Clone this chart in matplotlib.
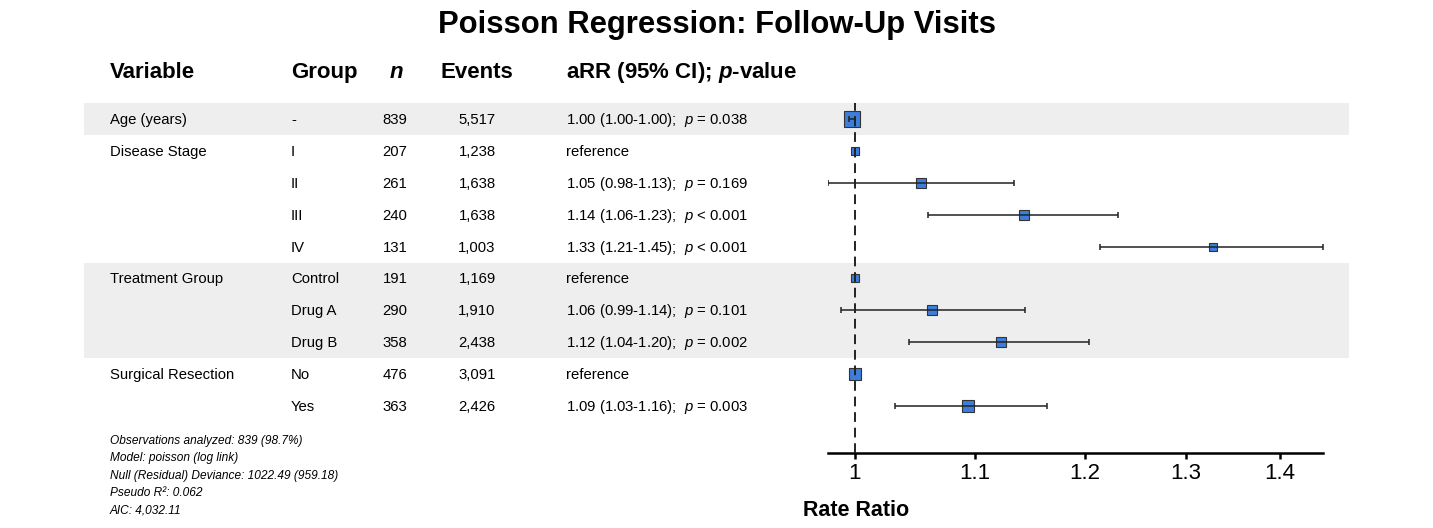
import matplotlib
matplotlib.use("Agg")
import matplotlib.pyplot as plt
from matplotlib.transforms import blended_transform_factory
from matplotlib.patches import Rectangle
from matplotlib.ticker import FixedLocator, NullLocator

plt.rcParams['font.family'] = ['Liberation Sans', 'DejaVu Sans']
plt.rcParams['mathtext.fontset'] = 'custom'
plt.rcParams['mathtext.rm'] = 'Liberation Sans'
plt.rcParams['mathtext.it'] = 'Liberation Sans:italic'
plt.rcParams['mathtext.bf'] = 'Liberation Sans:bold'
plt.rcParams['mathtext.bfit'] = 'Liberation Sans:bold:italic'

# datos del modelo
variables = ["Age (years)", "Disease Stage", "", "", "", "Treatment Group", "", "", "Surgical Resection", ""]
grupos = ["-", "I", "II", "III", "IV", "Control", "Drug A", "Drug B", "No", "Yes"]
n_obs = [839, 207, 261, 240, 131, 191, 290, 358, 476, 363]
eventos = [5517, 1238, 1638, 1638, 1003, 1169, 1910, 2438, 3091, 2426]
estimacion = [0.9976, 1.0, 1.054, 1.143, 1.328, 1.0, 1.063, 1.123, 1.0, 1.094]
inferior = [0.9955, 1.0, 0.979, 1.060, 1.214, 1.0, 0.989, 1.044, 1.0, 1.032]
superior = [0.9998, 1.0, 1.134, 1.232, 1.449, 1.0, 1.144, 1.204, 1.0, 1.164]
referencia = [False, True, False, False, False, True, False, False, True, False]
p_texto = ["= 0.038", "", "= 0.169", "< 0.001", "< 0.001", "", "= 0.101", "= 0.002", "", "= 0.003"]
peso = [16, 8.7, 9.3, 9.3, 7.3, 8.7, 10, 11, 12.3, 11.3]  # lado del cuadrado (px)
bandas = [(0, 0), (5, 7)]

notas = ["Observations analyzed: 839 (98.7%)",
         "Model: poisson (log link)",
         "Null (Residual) Deviance: 1022.49 (959.18)",
         "Pseudo R²: 0.062",
         "AIC: 4,032.11"]

W, H = 1433, 528
fig = plt.figure(figsize=(W / 100, H / 100), dpi=100)
ax = fig.add_axes([828 / W, 1 - 453 / H, (1323 - 828) / W, (453 - 103) / H])
ax.set_zorder(2)

filas = range(len(grupos))
ax.set_xscale("log")
ax.set_xlim(min(inferior), max(superior))
ax.set_ylim(10.47, -0.5)

# cuadrados debajo, luego intervalos y linea de referencia encima
for i in filas:
    ax.plot(estimacion[i], i, "s", markersize=peso[i] / 1.389, markerfacecolor="#3C7EDC",
            markeredgecolor="#333333", markeredgewidth=0.8, zorder=2)
    if not referencia[i]:
        ax.errorbar(estimacion[i], i, xerr=[[estimacion[i] - inferior[i]], [superior[i] - estimacion[i]]],
                    fmt="none", ecolor="#222222", elinewidth=1.1, capsize=2.2, capthick=1.1, zorder=3)

ax.axvline(1, color="#222222", lw=1.4, linestyle=(0, (5, 3)), zorder=4)

for s in ["top", "left", "right"]:
    ax.spines[s].set_visible(False)
ax.spines["bottom"].set_linewidth(1.8)
ax.xaxis.set_major_locator(FixedLocator([1, 1.1, 1.2, 1.3, 1.4]))
ax.xaxis.set_minor_locator(NullLocator())
ax.set_xticklabels(["1", "1.1", "1.2", "1.3", "1.4"])
ax.tick_params(axis="x", length=4.5, width=1.8, labelsize=16, pad=3)
ax.set_yticks([])
ax.patch.set_alpha(0)

trans = blended_transform_factory(fig.transFigure, ax.transData)

# bandas grises
for a, b2 in bandas:
    fig.patches.append(Rectangle((84 / W, a - 0.5), (1349 - 84) / W, b2 - a + 1, transform=trans,
                                 facecolor="#EEEEEE", edgecolor="none", zorder=-1))

# cabecera
yh = -1.45
hs = 16
fig.text(110 / W, yh, "Variable", transform=trans, fontsize=hs, fontweight="bold", va="center")
fig.text(291 / W, yh, "Group", transform=trans, fontsize=hs, fontweight="bold", va="center")
fig.text(396 / W, yh, "n", transform=trans, fontsize=hs, fontweight="bold", style="italic",
         va="center", ha="center")
fig.text(477 / W, yh, "Events", transform=trans, fontsize=hs, fontweight="bold", va="center", ha="center")
fig.text(566 / W, yh, r"aRR (95% CI); $\mathbfit{p}$-value", transform=trans, fontsize=hs,
         fontweight="bold", va="center")

fs = 10.7
for i in filas:
    yt = i + 0.03
    fig.text(110 / W, yt, variables[i], transform=trans, fontsize=fs, va="center")
    fig.text(291 / W, yt, grupos[i], transform=trans, fontsize=fs, va="center")
    fig.text(395 / W, yt, f"{n_obs[i]}", transform=trans, fontsize=fs, va="center", ha="center")
    fig.text(477 / W, yt, f"{eventos[i]:,}", transform=trans, fontsize=fs, va="center", ha="center")
    if referencia[i]:
        etiqueta = "reference"
    else:
        etiqueta = (f"{estimacion[i]:.2f} ({inferior[i]:.2f}-{superior[i]:.2f});  "
                    + r"$\mathit{p}$ " + p_texto[i])
    fig.text(566 / W, yt, etiqueta, transform=trans, fontsize=fs, va="center")

# notas del modelo
for k, nota in enumerate(notas):
    fig.text(110 / W, 1 - (441 + k * 17.3) / H, nota, fontsize=8.6, style="italic", va="center")

fig.text(0.5, 1 - 25 / H, "Poisson Regression: Follow-Up Visits", fontsize=22.3, fontweight="bold",
         ha="center", va="center")
fig.text(856 / W, 1 - 510 / H, "Rate Ratio", fontsize=15.5, fontweight="bold", ha="center", va="center")

fig.savefig("out.png", dpi=100)
